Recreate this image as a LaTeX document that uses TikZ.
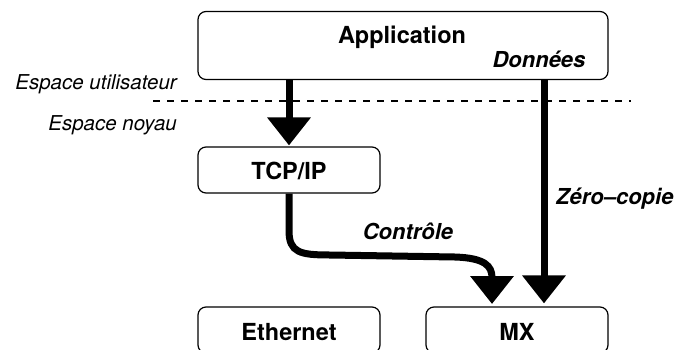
\documentclass[tikz,border=0pt]{standalone}
\usepackage{fontspec}
\setmainfont{TeX Gyre Heros}
\usetikzlibrary{arrows.meta,calc}
\begin{document}
\begin{tikzpicture}[x=1pt,y=-1pt,
  box/.style={draw,line width=1.2pt,rounded corners=8pt,inner sep=0pt},
  btxt/.style={anchor=base,inner sep=0pt,font=\fontsize{23.5}{26}\selectfont\bfseries},
  itxt/.style={anchor=base,inner sep=0pt,font=\fontsize{20.5}{24}\selectfont\itshape},
  bitxt/.style={anchor=base,inner sep=0pt,font=\fontsize{22}{26}\selectfont\bfseries\itshape},
  bigarrow/.style={line width=7pt,-{Triangle[width=42pt,length=28pt]}}]
\useasboundingbox (0,0) rectangle (689,349);
\clip (0,0) rectangle (689,349);
% boxes
\node[box,minimum width=410pt,minimum height=68pt] (app) at (403,45.5) {};
\node[box,minimum width=182pt,minimum height=46pt] (tcp) at (289,170) {};
\node[box,minimum width=182pt,minimum height=46pt] (eth) at (289,330) {};
\node[box,minimum width=182pt,minimum height=46pt] (mx) at (517,330) {};
% texts
\node[btxt] (tapp) at (402,43) {Application};
\node[bitxt] (tdon) at (539,67) {Données};
\node[btxt] (ttcp) at (289,179) {TCP/IP};
\node[btxt] (teth) at (289,340) {Ethernet};
\node[btxt] (tmx) at (517,340) {MX};
\node[itxt,anchor=base east] (tuser) at (177,89) {Espace utilisateur};
\node[itxt,anchor=base east] (tkern) at (177,130) {Espace noyau};
\node[bitxt] (tctl) at (408,239) {Contrôle};
\node[bitxt,anchor=base west] (tzc) at (556,204) {Zéro–copie};
% dashed separator
\coordinate (dl) at (153,101);
\coordinate (dr) at (631,101);
\draw[line width=1.3pt,dash pattern=on 7pt off 7pt] (dl) -- (dr);
% arrows
\coordinate (zc) at (544,0);
\coordinate (ctltip) at (492,304);
\draw[bigarrow,shorten >=1pt] (app.south -| tcp.north) -- (tcp.north);
\draw[bigarrow,shorten >=3pt] (app.south -| zc) -- (mx.north -| zc);
\draw[bigarrow] (tcp.south) -- ++(0,37) .. controls ++(0,22) and (300,255) .. (330,255)
  -- (455,257) .. controls (485,258) and (492,266) .. (ctltip);
\end{tikzpicture}
\end{document}
